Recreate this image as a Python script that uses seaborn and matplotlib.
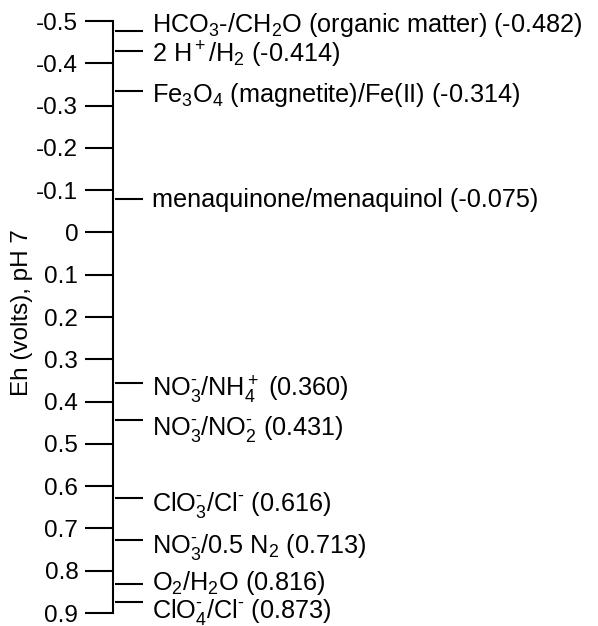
import matplotlib
matplotlib.use("Agg")
import matplotlib.pyplot as plt
import seaborn as sns
import pandas as pd

# ---- data ----
couples = [
    r"HCO$_3$-/CH$_2$O (organic matter) (-0.482)",
    r"2 H$^+$/H$_2$ (-0.414)",
    r"Fe$_3$O$_4$ (magnetite)/Fe(II) (-0.314)",
    r"menaquinone/menaquinol (-0.075)",
    r"NO$_3^{\text{-}}$/NH$_4^+$ (0.360)",
    r"NO$_3^{\text{-}}$/NO$_2^{\text{-}}$ (0.431)",
    r"ClO$_3^{\text{-}}$/Cl$^{\text{-}}$ (0.616)",
    r"NO$_3^{\text{-}}$/0.5 N$_2$ (0.713)",
    r"O$_2$/H$_2$O (0.816)",
    r"ClO$_4^{\text{-}}$/Cl$^{\text{-}}$ (0.873)",
]
eh_labeled = [-0.482, -0.414, -0.314, -0.075, 0.360, 0.431, 0.616, 0.713, 0.816, 0.873]
# positions at which the marks are drawn in the picture
eh_drawn = [-0.476, -0.429, -0.335, -0.078, 0.355, 0.444, 0.627, 0.728, 0.832, 0.873]
tick_values = [-0.5, -0.4, -0.3, -0.2, -0.1, 0.0, 0.1, 0.2, 0.3, 0.4, 0.5, 0.6, 0.7, 0.8, 0.9]
tick_labels = ["-0.5", "-0.4", "-0.3", "-0.2", "-0.1", "0", "0.1", "0.2", "0.3",
               "0.4", "0.5", "0.6", "0.7", "0.8", "0.9"]
y_title = "Eh (volts), pH 7"

# ---- layout / style ----
label_drop_px = [1, 11, 11, 8, 14, 15, 13.5, 12.5, 6, 16.5]  # baseline below mark

sns.set_theme(style="ticks")
plt.rcParams["font.family"] = ["Liberation Sans", "DejaVu Sans"]
plt.rcParams["mathtext.fontset"] = "custom"
plt.rcParams["mathtext.rm"] = "Liberation Sans"
plt.rcParams["mathtext.it"] = "Liberation Sans:italic"
plt.rcParams["mathtext.bf"] = "Liberation Sans:bold"
plt.rcParams["axes.unicode_minus"] = False

FS = 18.2
TFS = 17.5
fig = plt.figure(figsize=(5.98, 6.26), dpi=100)
ax = fig.add_axes([113 / 598, 13 / 626, 485 / 598, 592 / 626])

df = pd.DataFrame({"couple": couples, "eh": eh_drawn, "x": 0.033})
sns.scatterplot(data=df, x="x", y="eh", marker="_", s=405, color="black",
                linewidth=1.5, ax=ax, legend=False, zorder=3)

for lab, y, d in zip(couples, eh_drawn, label_drop_px):
    ax.annotate(lab, xy=(0.0805, y), xycoords="data",
                xytext=(0, -d * 0.72), textcoords="offset points",
                ha="left", va="baseline", fontsize=FS, color="black",
                annotation_clip=False)

ax.set_xlim(0, 1)
ax.set_ylim(0.9, -0.5)
ax.set_yticks(tick_values)
ax.set_yticklabels(tick_labels, fontsize=TFS)
ax.tick_params(axis="y", direction="out", length=20, width=1.5, pad=5,
               colors="black", labelcolor="black")
ax.set_xticks([])
ax.set_xlabel("")
for s in ["top", "right", "bottom"]:
    ax.spines[s].set_visible(False)
ax.spines["left"].set_linewidth(1.5)
ax.spines["left"].set_color("black")
ax.set_ylabel(y_title, fontsize=TFS, color="black")
ax.yaxis.set_label_coords(-0.165, 0.507)
ax.patch.set_alpha(0)

fig.savefig("out.png", dpi=100)
